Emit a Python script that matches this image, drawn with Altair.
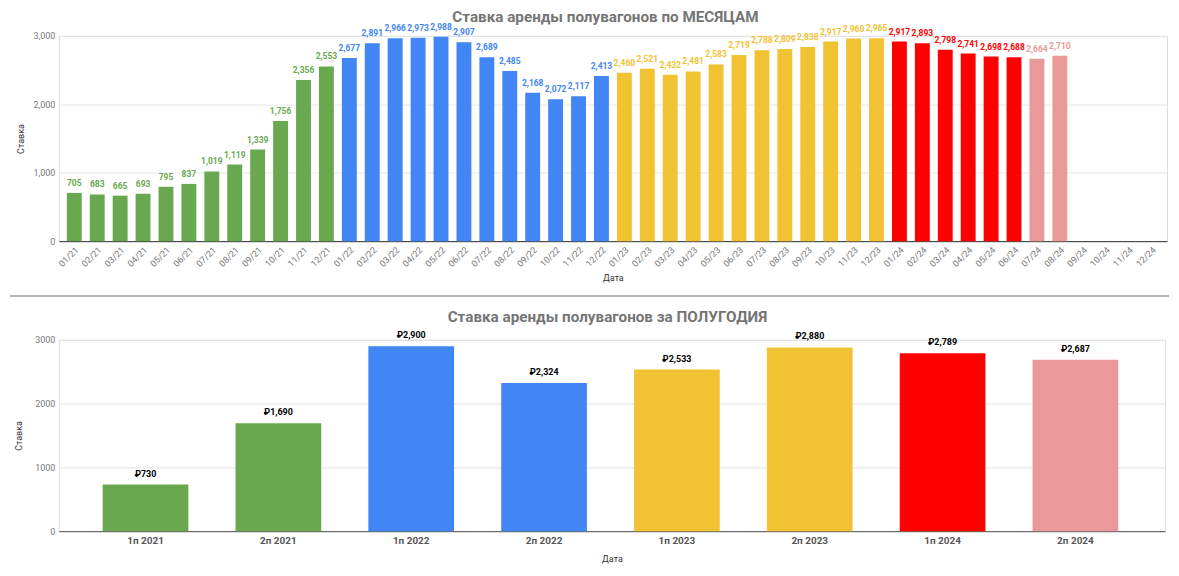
import altair as alt
import pandas as pd

# ---- data: monthly ----
months = [f"{m:02d}/{y}" for y in (21, 22, 23, 24) for m in range(1, 13)]
monthly_values = [705, 683, 665, 693, 795, 837, 1019, 1119, 1339, 1756, 2356, 2553,
                  2677, 2891, 2966, 2973, 2988, 2907, 2689, 2485, 2168, 2072, 2117, 2413,
                  2460, 2521, 2432, 2481, 2583, 2719, 2788, 2809, 2838, 2917, 2960, 2965,
                  2917, 2893, 2798, 2741, 2698, 2688, 2664, 2710]
monthly_groups = (["2021"] * 12 + ["2022"] * 12 + ["2023"] * 12 +
                  ["2024-1"] * 6 + ["2024-2"] * 2)

# ---- data: half-years ----
halves = ["1п 2021", "2п 2021", "1п 2022", "2п 2022", "1п 2023", "2п 2023", "1п 2024", "2п 2024"]
half_values = [730, 1690, 2900, 2324, 2533, 2880, 2789, 2687]
half_groups = ["2021", "2021", "2022", "2022", "2023", "2023", "2024-1", "2024-2"]

group_domain = ["2021", "2022", "2023", "2024-1", "2024-2"]
top_colors = ["#6aa84f", "#4285f4", "#f1c232", "#ff0000", "#ea9999"]
bot_colors = ["#6aa84f", "#4a86e8", "#f1c232", "#ff0000", "#ea9999"]

df_m = pd.DataFrame({"month": months[:len(monthly_values)], "value": monthly_values,
                     "group": monthly_groups})
df_h = pd.DataFrame({"half": halves, "value": half_values, "group": half_groups})

FONT = "Roboto"

# ---------- top chart ----------
xm = alt.X("month:N", sort=months,
           scale=alt.Scale(domain=months, paddingInner=0.35, paddingOuter=0.35),
           axis=alt.Axis(title="Дата", labelAngle=315, labelFontSize=9, labelColor="#777777",
                         labelFont=FONT, ticks=False, domainColor="#333333", domainWidth=1,
                         labelPadding=4, titleFontSize=9, titleFontWeight="normal",
                         titleColor="#333333", titleFont=FONT, titlePadding=5, grid=False))
ym = alt.Y("value:Q", scale=alt.Scale(domain=[0, 3000], nice=False),
           axis=alt.Axis(title="Ставка", values=[0, 1000, 2000, 3000], format=",d",
                         labelFontSize=9, labelColor="#777777", labelFont=FONT,
                         ticks=False, domain=False, gridColor="#e6e6e6", labelPadding=4,
                         titleFontSize=9, titleFontWeight="normal", titleColor="#333333",
                         titleFont=FONT, titlePadding=7))
cm_top = alt.Color("group:N", scale=alt.Scale(domain=group_domain, range=top_colors), legend=None)

bars_m = alt.Chart(df_m).mark_bar().encode(x=xm, y=ym, color=cm_top)
text_m = alt.Chart(df_m).mark_text(baseline="bottom", dy=-5, fontSize=8.5, fontWeight="bold",
                                   font=FONT).encode(
    x=alt.X("month:N", sort=months), y="value:Q",
    text=alt.Text("value:Q", format=",d"), color=cm_top)
divider = alt.Chart(pd.DataFrame({"d": [0]})).mark_rule(color="#9e9e9e", strokeWidth=1.5).encode(
    x=alt.value(-49), x2=alt.value(1114), y=alt.value(261))

top = alt.layer(bars_m, text_m, divider).properties(
    width=1112, height=206,
    title=alt.TitleParams("Ставка аренды полувагонов по МЕСЯЦАМ", font=FONT, fontSize=15.3,
                          fontWeight="bold", color="#757575", anchor="middle", frame="group",
                          dx=-7.5, offset=-2.5))

# ---------- bottom chart ----------
xh = alt.X("half:N", sort=halves,
           scale=alt.Scale(domain=halves, paddingInner=0.355, paddingOuter=0.341, align=0.484),
           axis=alt.Axis(title="Дата", labelAngle=0, labelFontSize=10, labelFontWeight="bold",
                         labelColor="#555555", labelFont=FONT, ticks=False,
                         domainColor="#555555", domainWidth=1, labelPadding=4,
                         titleFontSize=9, titleFontWeight="normal", titleColor="#333333",
                         titleFont=FONT, titlePadding=9, grid=False))
yh = alt.Y("value:Q", scale=alt.Scale(domain=[0, 3000], nice=False),
           axis=alt.Axis(title="Ставка", values=[0, 1000, 2000, 3000], format="d",
                         labelFontSize=9, labelColor="#777777", labelFont=FONT,
                         ticks=False, domain=False, gridColor="#e0e0e0", labelPadding=4,
                         titleFontSize=9, titleFontWeight="normal", titleColor="#333333",
                         titleFont=FONT, titlePadding=11))
cm_bot = alt.Color("group:N", scale=alt.Scale(domain=group_domain, range=bot_colors), legend=None)

bars_h = alt.Chart(df_h).mark_bar().encode(x=xh, y=yh, color=cm_bot)
text_h = alt.Chart(df_h).transform_calculate(
    label="'₽' + format(datum.value, ',d')"
).mark_text(baseline="bottom", dy=-6, fontSize=9, fontWeight="bold", font=FONT,
            color="#000000").encode(x=alt.X("half:N", sort=halves), y="value:Q", text="label:N")
spacer = alt.Chart(pd.DataFrame({"d": [0]})).mark_rule(opacity=0).encode(
    x=alt.value(-49), x2=alt.value(-49), y=alt.value(100))

bottom = alt.layer(bars_h, text_h, spacer).properties(
    width=1110, height=192,
    title=alt.TitleParams("Ставка аренды полувагонов за ПОЛУГОДИЯ", font=FONT, fontSize=15.3,
                          fontWeight="bold", color="#757575", anchor="middle", frame="group",
                          dx=-4.5, offset=5.5))

chart = alt.concat(top, bottom, columns=1, align="none", spacing=12).properties(
    padding=0
).configure_view(stroke=None).configure(background="white")

chart.save("out.html", embed_options={"renderer": "svg", "actions": False})
